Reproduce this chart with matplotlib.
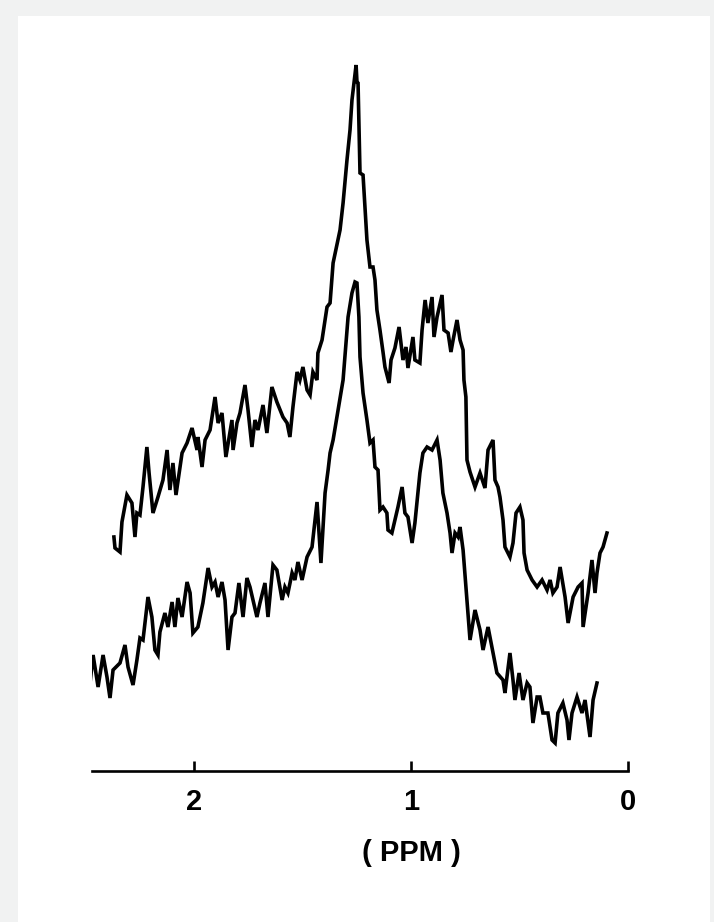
import matplotlib
matplotlib.use("Agg")
import matplotlib.pyplot as plt
from matplotlib.patches import Rectangle

# upper spectrum (chemical shift in ppm, intensity in arbitrary units)
upper_ppm = [
    2.369, 2.364, 2.341, 2.332, 2.309, 2.286, 2.272, 2.263, 2.249, 2.235,
    2.217, 2.207, 2.189, 2.166, 2.143, 2.124, 2.111, 2.097, 2.083, 2.055,
    2.032, 2.009, 1.986, 1.982, 1.963, 1.949, 1.926, 1.903, 1.889, 1.871,
    1.853, 1.825, 1.820, 1.802, 1.788, 1.765, 1.751, 1.733, 1.719, 1.705,
    1.682, 1.664, 1.641, 1.618, 1.590, 1.571, 1.558, 1.544, 1.525, 1.512,
    1.498, 1.479, 1.465, 1.452, 1.433, 1.429, 1.410, 1.387, 1.373, 1.359,
    1.327, 1.313, 1.295, 1.281, 1.272, 1.253, 1.249, 1.244, 1.235, 1.221,
    1.203, 1.189, 1.175, 1.166, 1.157, 1.143, 1.129, 1.120, 1.101, 1.092,
    1.074, 1.055, 1.037, 1.023, 1.014, 0.991, 0.982, 0.959, 0.949, 0.935,
    0.922, 0.903, 0.894, 0.880, 0.857, 0.848, 0.829, 0.816, 0.806, 0.788,
    0.774, 0.760, 0.756, 0.747, 0.742, 0.728, 0.705, 0.682, 0.659, 0.645,
    0.622, 0.613, 0.599, 0.590, 0.576, 0.567, 0.544, 0.530, 0.516, 0.498,
    0.484, 0.479, 0.465, 0.442, 0.419, 0.396, 0.373, 0.359, 0.346, 0.327,
    0.313, 0.290, 0.276, 0.253, 0.230, 0.212, 0.207, 0.184, 0.166, 0.152,
    0.143, 0.129, 0.115, 0.097,
]
upper_int = [
    234, 223, 219, 249, 276, 268, 234, 258, 256, 284,
    324, 298, 258, 274, 291, 321, 281, 308, 276, 318,
    328, 343, 321, 334, 304, 331, 341, 374, 348, 358,
    314, 351, 321, 348, 358, 386, 361, 324, 351, 341,
    366, 338, 384, 369, 354, 348, 334, 364, 399, 391,
    404, 381, 376, 399, 391, 418, 431, 464, 468, 508,
    541, 568, 611, 641, 671, 706, 689, 688, 598, 596,
    531, 504, 504, 491, 461, 441, 419, 404, 388, 411,
    423, 444, 411, 424, 403, 434, 411, 408, 441, 471,
    448, 474, 434, 454, 476, 441, 438, 419, 431, 451,
    431, 421, 391, 374, 311, 299, 284, 298, 283, 321,
    331, 291, 284, 274, 251, 224, 214, 228, 258, 264,
    251, 218, 201, 191, 184, 191, 181, 191, 178, 184,
    204, 174, 148, 174, 184, 188, 144, 178, 211, 178,
    198, 218, 224, 238,
]

# lower spectrum
lower_ppm = [
    2.484, 2.465, 2.442, 2.419, 2.401, 2.387, 2.373, 2.341, 2.318, 2.304,
    2.281, 2.263, 2.249, 2.235, 2.212, 2.194, 2.180, 2.166, 2.157, 2.134,
    2.120, 2.101, 2.088, 2.074, 2.055, 2.032, 2.018, 2.005, 1.982, 1.959,
    1.935, 1.917, 1.903, 1.889, 1.871, 1.857, 1.843, 1.825, 1.811, 1.793,
    1.774, 1.756, 1.742, 1.728, 1.710, 1.696, 1.673, 1.659, 1.636, 1.618,
    1.594, 1.581, 1.567, 1.548, 1.535, 1.521, 1.502, 1.479, 1.456, 1.433,
    1.415, 1.396, 1.382, 1.373, 1.359, 1.336, 1.313, 1.290, 1.272, 1.258,
    1.249, 1.240, 1.235, 1.221, 1.203, 1.189, 1.175, 1.166, 1.152, 1.143,
    1.129, 1.111, 1.106, 1.088, 1.074, 1.060, 1.041, 1.028, 1.014, 0.995,
    0.982, 0.959, 0.945, 0.926, 0.903, 0.880, 0.866, 0.853, 0.834, 0.820,
    0.811, 0.797, 0.783, 0.774, 0.760, 0.742, 0.728, 0.705, 0.682, 0.668,
    0.645, 0.622, 0.604, 0.576, 0.567, 0.544, 0.530, 0.521, 0.502, 0.484,
    0.465, 0.452, 0.438, 0.419, 0.406, 0.392, 0.369, 0.350, 0.336, 0.323,
    0.300, 0.281, 0.272, 0.258, 0.235, 0.212, 0.198, 0.175, 0.161, 0.143,
]
lower_int = [
    78, 116, 84, 116, 94, 73, 101, 108, 126, 104,
    86, 111, 133, 131, 174, 154, 121, 116, 139, 158,
    144, 169, 144, 173, 154, 189, 178, 138, 144, 168,
    203, 184, 189, 174, 189, 171, 121, 154, 158, 188,
    154, 193, 184, 171, 154, 168, 188, 154, 206, 201,
    171, 184, 178, 198, 191, 209, 191, 214, 224, 269,
    208, 278, 301, 318, 331, 361, 391, 454, 478, 489,
    488, 454, 414, 378, 351, 328, 331, 304, 301, 261,
    264, 258, 241, 238, 251, 264, 284, 258, 254, 228,
    248, 298, 318, 324, 321, 331, 311, 278, 258, 238,
    218, 238, 234, 244, 221, 171, 131, 161, 141, 121,
    144, 118, 98, 91, 78, 118, 91, 71, 98, 71,
    88, 84, 48, 74, 74, 58, 58, 31, 28, 58,
    68, 51, 31, 58, 74, 58, 71, 34, 71, 88,
]

ticks = [2, 1, 0]
tick_labels = ["2", "1", "0"]

W, H = 714, 922
fig = plt.figure(figsize=(W / 100, H / 100), dpi=100)
fig.patch.set_facecolor("#f1f2f2")
# scanned sheet of paper
fig.patches.append(Rectangle((18 / W, 0), (710 - 18) / W, (H - 16) / H,
                             transform=fig.transFigure, facecolor="white",
                             edgecolor="none", zorder=-10))

ax = fig.add_axes([92 / W, (H - 771) / H, (628 - 92) / W, (771 - 50) / H])
ax.set_facecolor("none")
ax.set_zorder(5)

ax.plot(upper_ppm, upper_int, color="black", lw=2.6, solid_joinstyle="miter")
ax.plot(lower_ppm, lower_int, color="black", lw=2.6, solid_joinstyle="miter")

ax.set_xlim(2.47, 0)
ax.set_ylim(0, 721)

for side in ["top", "left", "right"]:
    ax.spines[side].set_visible(False)
ax.spines["bottom"].set_linewidth(1.9)
ax.set_yticks([])
ax.set_xticks(ticks)
ax.set_xticklabels(tick_labels, fontsize=21, fontweight="bold",
                   family="Liberation Sans")
ax.tick_params(axis="x", direction="in", length=7, width=1.9, pad=12)

ax.annotate("( PPM )", xy=(1.0, H - 853), xycoords=("data", "figure pixels"),
            ha="center", va="center", fontsize=21, fontweight="bold",
            family="Liberation Sans", annotation_clip=False)

fig.savefig("out.png", dpi=100)
